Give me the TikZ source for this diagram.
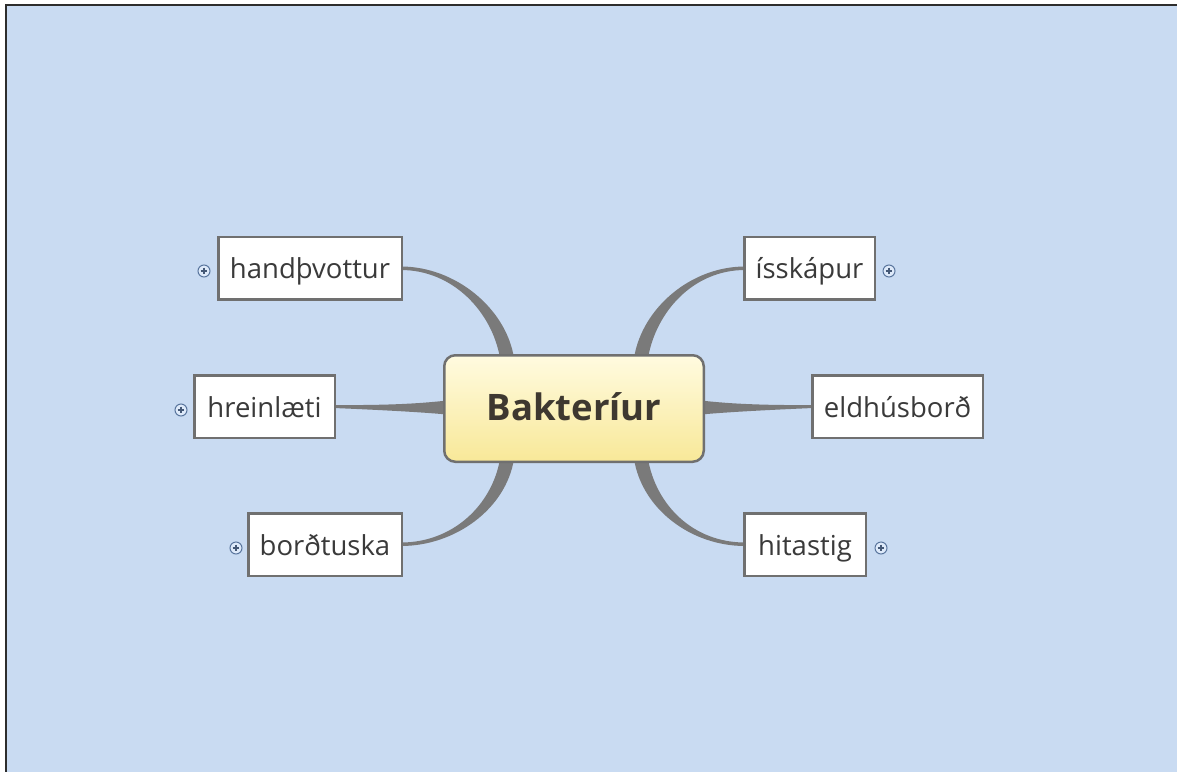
\documentclass[tikz,border=0pt]{standalone}
\usepackage{fontspec}
\setmainfont{Open Sans}
\usetikzlibrary{calc,backgrounds}

\definecolor{paper}{RGB}{201,219,242}
\definecolor{framecol}{RGB}{45,45,45}
\definecolor{edge}{RGB}{122,122,122}
\definecolor{boxline}{RGB}{112,112,112}
\definecolor{ink}{RGB}{58,58,58}
\definecolor{hubink}{RGB}{62,56,48}
\definecolor{hubtop}{RGB}{255,251,224}
\definecolor{hubbot}{RGB}{248,232,152}
\definecolor{plusfill}{RGB}{222,234,250}
\definecolor{plusline}{RGB}{90,118,158}

\tikzset{
  hub/.style={draw=boxline, line width=2.5pt, rounded corners=11pt,
    top color=hubtop, bottom color=hubbot,
    minimum width=259.5pt, minimum height=106.5pt, inner sep=0pt,
    text height=28pt, text depth=5pt,
    font=\fontsize{36.5}{42}\selectfont\bfseries, text=hubink},
  topic/.style={draw=boxline, line width=2.5pt, fill=white,
    minimum height=62.5pt, inner sep=0pt,
    text height=24pt, text depth=3pt,
    font=\fontsize{27.5}{33}\selectfont, text=ink},
  twig/.style={fill=edge},
  expander/.style={circle, draw=plusline, fill=plusfill, line width=1pt,
    minimum size=12pt, inner sep=0pt},
  plussign/.style={draw=plusline!75!black, line width=1.2pt},
  framestroke/.style={draw=framecol, line width=1.6pt}
}

\begin{document}
\begin{tikzpicture}[x=1pt,y=-1pt]
  \useasboundingbox (0,0) rectangle (1177,771);

  % central topic and its branches
  \node[hub] (hub) at (574,408.5) {Bakteríur};
  \node[topic, minimum width=183.5pt] (hand)   at (310,268)   {handþvottur};
  \node[topic, minimum width=140.5pt] (hrein)  at (264.5,406.5) {hreinlæti};
  \node[topic, minimum width=153.5pt] (bord)   at (325,544.5) {borðtuska};
  \node[topic, minimum width=130.5pt] (iss)    at (809.5,268) {ísskápur};
  \node[topic, minimum width=170.5pt] (eldhus) at (897.5,406.5) {eldhúsborð};
  \node[topic, minimum width=121.5pt] (hita)   at (805,544.5) {hitastig};

  % collapsed-branch markers
  \node[expander] (xhand)  at ($(hand.west)+(-13,3)$) {};
  \node[expander] (xhrein) at ($(hrein.west)+(-12,3.5)$) {};
  \node[expander] (xbord)  at ($(bord.west)+(-11,3.5)$) {};
  \node[expander] (xiss)   at ($(iss.east)+(13,3)$) {};
  \node[expander] (xhita)  at ($(hita.east)+(14,3.5)$) {};
  \foreach \p in {xhand,xhrein,xbord,xiss,xhita}{
    \draw[plussign] ($(\p.center)+(-3.3,0)$) -- ($(\p.center)+(3.3,0)$)
                    ($(\p.center)+(0,-3.3)$) -- ($(\p.center)+(0,3.3)$);
  }

  \begin{scope}[on background layer]
    % paper and frame
    \fill[white] (0,0) rectangle (1177,771);
    \fill[paper] (6,5) rectangle (1185,780);
    \draw[framestroke] (6,780) -- (6,5) -- (1185,5);

    % tapered branch lines
    \fill[twig] ($(hand.east)+(-2,-1.5)$) .. controls ($(hand.east)+(52,-1.5)$) and ($(hub.north)+(-68,-46)$) .. ($(hub.north)+(-60,4)$)
      -- ($(hub.north)+(-74,4)$) .. controls ($(hub.north)+(-82,-42)$) and ($(hand.east)+(50,2)$) .. ($(hand.east)+(-2,2)$) -- cycle;
    \fill[twig] ($(iss.west)+(2,-1.5)$) .. controls ($(iss.west)+(-52,-1.5)$) and ($(hub.north)+(68,-46)$) .. ($(hub.north)+(60,4)$)
      -- ($(hub.north)+(74,4)$) .. controls ($(hub.north)+(82,-42)$) and ($(iss.west)+(-50,2)$) .. ($(iss.west)+(2,2)$) -- cycle;
    \fill[twig] ($(bord.east)+(-2,1.5)$) .. controls ($(bord.east)+(52,1.5)$) and ($(hub.south)+(-68,46)$) .. ($(hub.south)+(-60,-4)$)
      -- ($(hub.south)+(-74,-4)$) .. controls ($(hub.south)+(-82,42)$) and ($(bord.east)+(50,-2)$) .. ($(bord.east)+(-2,-2)$) -- cycle;
    \fill[twig] ($(hita.west)+(2,1.5)$) .. controls ($(hita.west)+(-52,1.5)$) and ($(hub.south)+(68,46)$) .. ($(hub.south)+(60,-4)$)
      -- ($(hub.south)+(74,-4)$) .. controls ($(hub.south)+(82,42)$) and ($(hita.west)+(-50,-2)$) .. ($(hita.west)+(2,-2)$) -- cycle;
    \fill[twig] ($(hrein.east)+(-2,-1.5)$) .. controls ($(hub.west)+(-50,-3)$) and ($(hub.west)+(-18,-5.5)$) .. ($(hub.west)+(4,-8)$)
      -- ($(hub.west)+(4,6)$) .. controls ($(hub.west)+(-18,4)$) and ($(hub.west)+(-50,2)$) .. ($(hrein.east)+(-2,1.5)$) -- cycle;
    \fill[twig] ($(eldhus.west)+(2,-1.5)$) .. controls ($(hub.east)+(50,-3)$) and ($(hub.east)+(18,-5.5)$) .. ($(hub.east)+(-4,-8)$)
      -- ($(hub.east)+(-4,6)$) .. controls ($(hub.east)+(18,4)$) and ($(hub.east)+(50,2)$) .. ($(eldhus.west)+(2,1.5)$) -- cycle;
  \end{scope}
\end{tikzpicture}
\end{document}
